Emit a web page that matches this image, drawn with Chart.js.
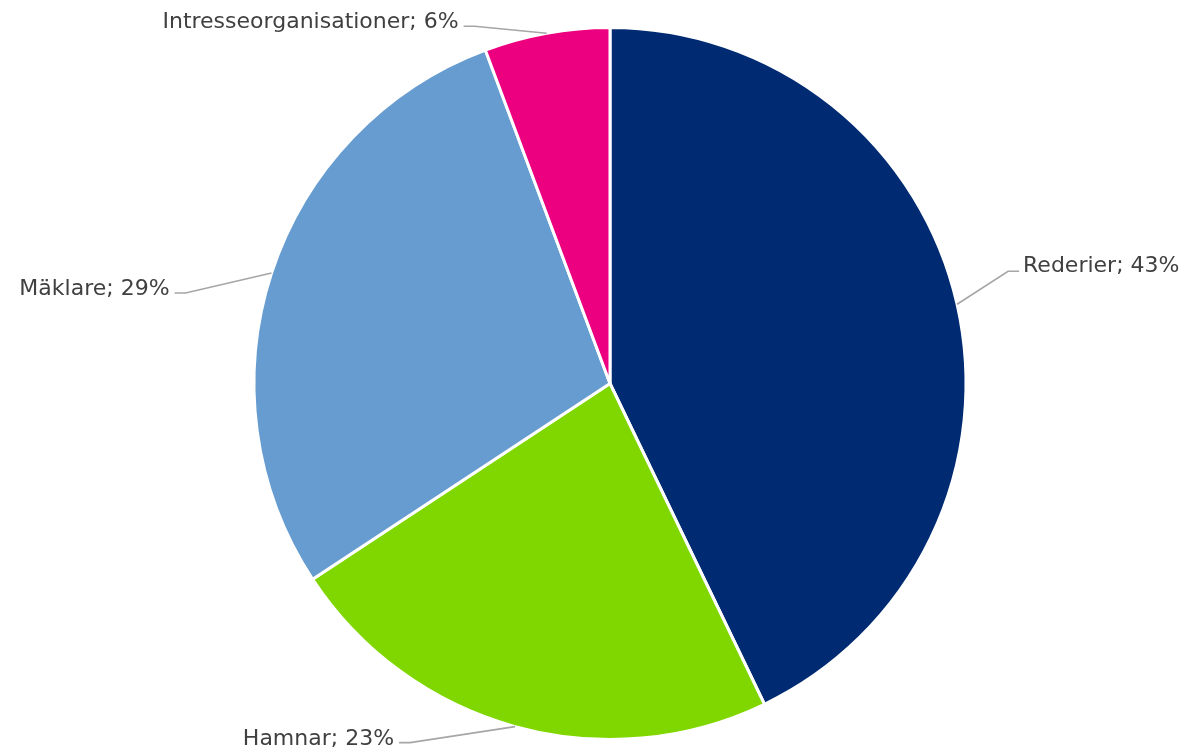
<!DOCTYPE html>
<html>
<head>
<meta charset="utf-8">
<script src="https://cdn.jsdelivr.net/npm/chart.js@4/dist/chart.umd.min.js"></script>
<style>
html,body{margin:0;padding:0;background:#fff;}
#wrap{width:1187px;height:753px;position:relative;}
</style>
</head>
<body>
<div id="wrap"><canvas id="c"></canvas></div>
<script>
const categories = ['Rederier', 'Hamnar', 'Mäklare', 'Intresseorganisationer'];
const shares = [42.9, 22.9, 28.6, 5.7];
const colors = ['#002B72', '#80D700', '#669CCF', '#EC0080'];

// leader-line layout: elbow offset from slice edge, side of label
const labelLayout = [
  {dx: 51, dy: -33, side: 'right'},
  {dx: -105, dy: 16, side: 'left'},
  {dx: -86, dy: 20, side: 'left'},
  {dx: -72, dy: -7, side: 'left'}
];

const leaderLabels = {
  id: 'leaderLabels',
  afterDatasetsDraw(chart) {
    const ctx = chart.ctx;
    const meta = chart.getDatasetMeta(0);
    ctx.save();
    ctx.font = '22px "DejaVu Sans", Verdana, sans-serif';
    ctx.textBaseline = 'alphabetic';
    meta.data.forEach((arc, i) => {
      const a = (arc.startAngle + arc.endAngle) / 2;
      const r = arc.outerRadius;
      const ex = arc.x + Math.cos(a) * r;
      const ey = arc.y + Math.sin(a) * r;
      const L = labelLayout[i];
      const bx = ex + L.dx, by = ey + L.dy;
      const hx = L.side === 'right' ? bx + 11 : bx - 11;
      ctx.strokeStyle = '#A6A6A6';
      ctx.lineWidth = 1.6;
      ctx.beginPath();
      ctx.moveTo(ex, ey);
      ctx.lineTo(bx, by);
      ctx.lineTo(hx, by);
      ctx.stroke();
      const text = categories[i] + '; ' + Math.round(shares[i]) + '%';
      ctx.fillStyle = '#404040';
      if (L.side === 'right') {
        ctx.textAlign = 'left';
        ctx.fillText(text, hx + 4, by + 1);
      } else {
        ctx.textAlign = 'right';
        ctx.fillText(text, hx - 5, by + 2);
      }
    });
    ctx.restore();
  }
};

new Chart(document.getElementById('c'), {
  type: 'pie',
  data: {
    labels: categories,
    datasets: [{
      data: shares,
      backgroundColor: colors,
      borderColor: '#FFFFFF',
      borderWidth: 3
    }]
  },
  options: {
    responsive: true,
    maintainAspectRatio: false,
    animation: false,
    layout: {padding: {left: 100, right: 67, top: 26, bottom: 12}},
    plugins: {
      legend: {display: false},
      tooltip: {enabled: false}
    }
  },
  plugins: [leaderLabels]
});
</script>
</body>
</html>
